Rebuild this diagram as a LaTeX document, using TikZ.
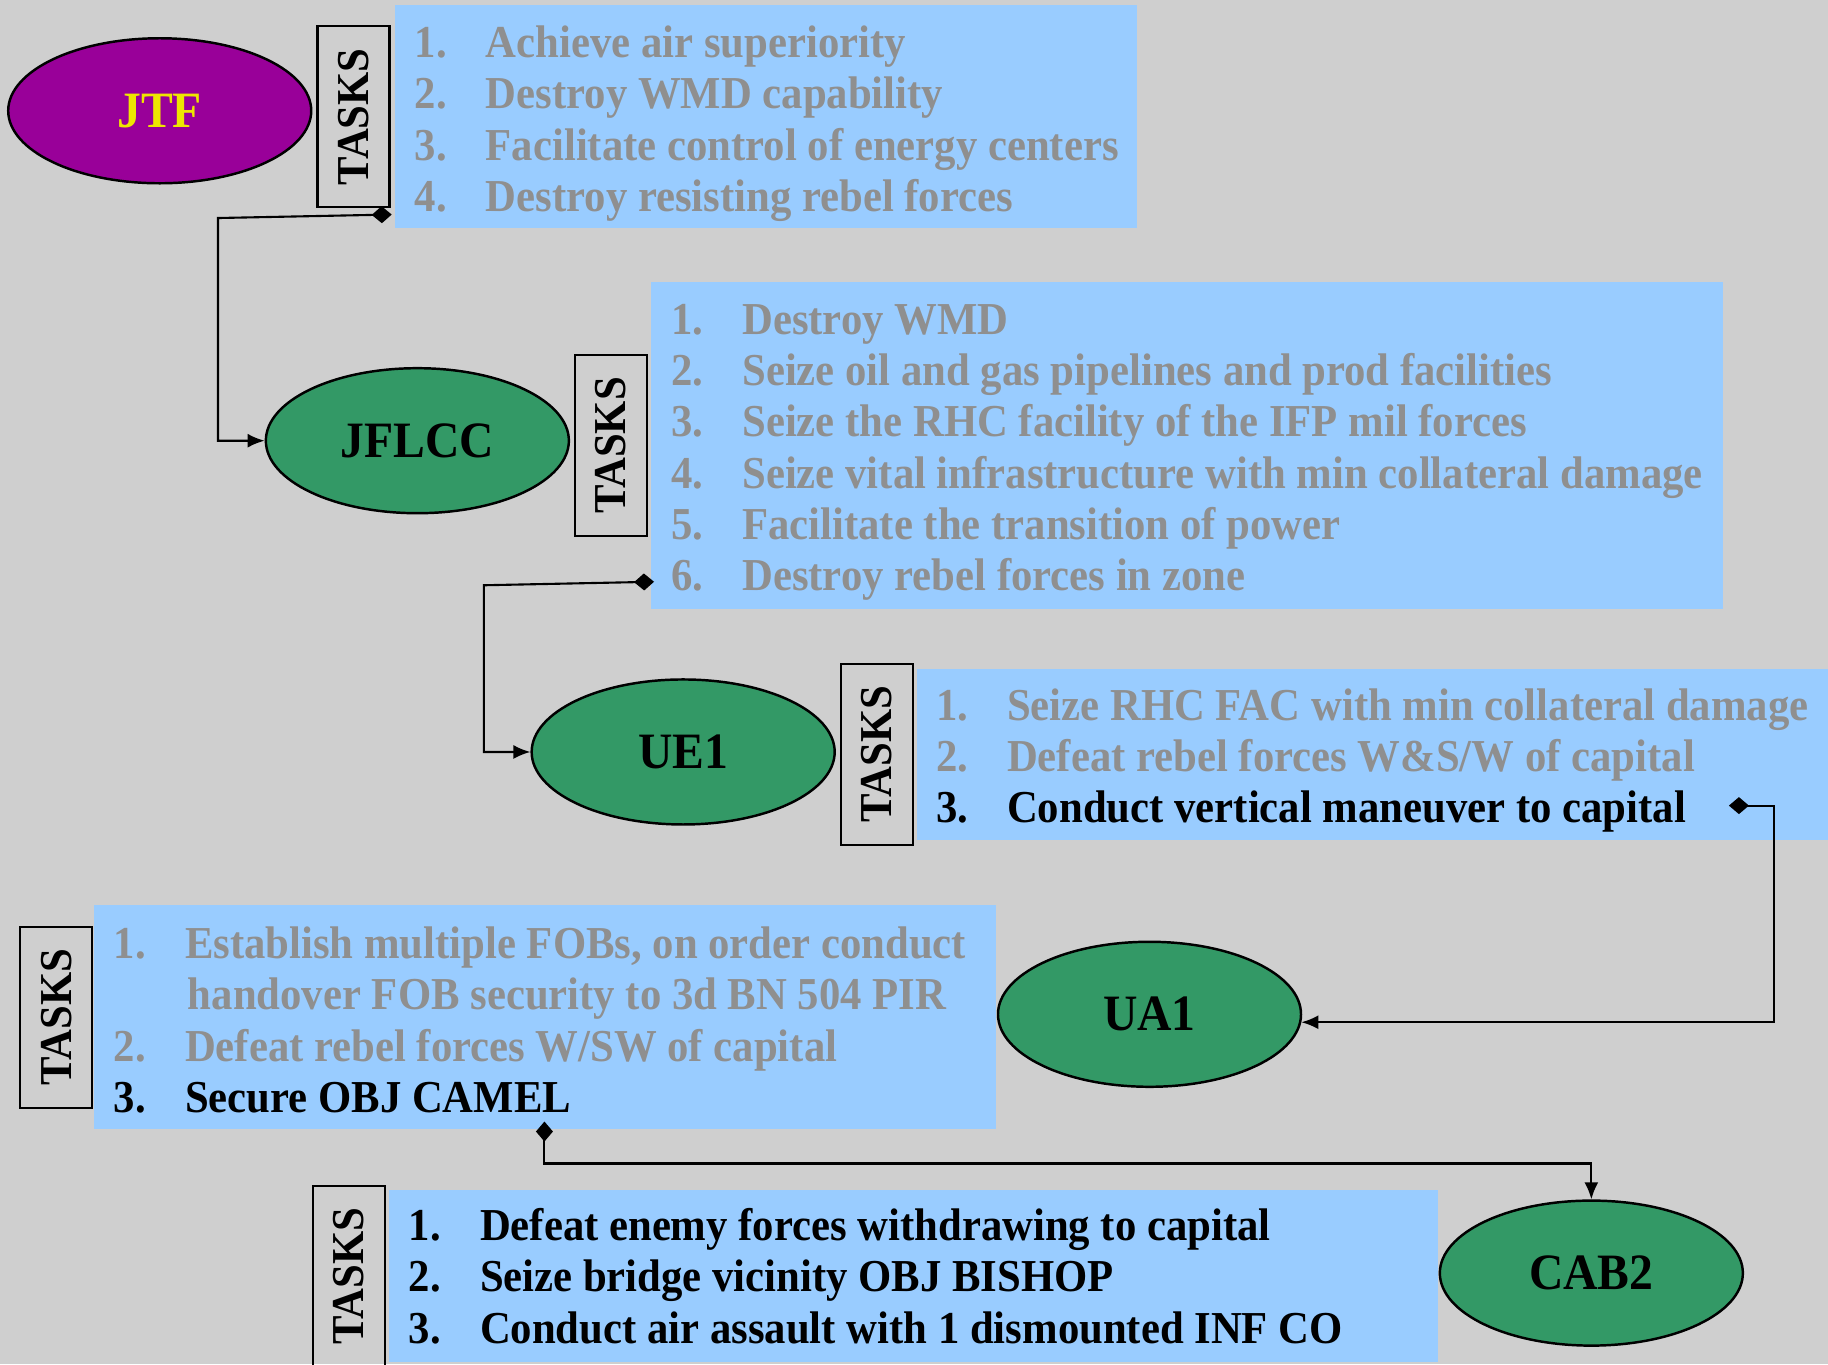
\documentclass[tikz,border=0pt]{standalone}
\usepackage{fontspec}
\setmainfont[FakeStretch=0.935]{Liberation Serif}
\usepackage{graphicx}
\usepackage{tikz}
\usetikzlibrary{positioning, shapes.geometric, arrows.meta}
\definecolor{bggray}{RGB}{207,207,207}
\definecolor{boxblue}{RGB}{153,204,255}
\definecolor{taskgray}{RGB}{143,143,143}
\definecolor{unitgreen}{RGB}{51,153,102}
\definecolor{jtfpurple}{RGB}{153,0,153}
\definecolor{jtfyellow}{RGB}{238,230,0}
\tikzstyle{unit}=[ellipse, draw, line width=0.7pt, fill=unitgreen, minimum width=3.03cm, minimum height=1.45cm, inner sep=0pt, font=\fontsize{14.5}{17}\selectfont\bfseries]
\tikzstyle{taskbox}=[fill=boxblue, anchor=north west, inner sep=0pt]
\tikzstyle{tasklist}=[align=left, inner sep=0pt, text=taskgray, font=\fontsize{13}{14.6}\selectfont\bfseries]
\tikzstyle{tag}=[draw, line width=0.6pt, minimum width=0.72cm, minimum height=1.81cm, inner sep=0pt, font=\fontsize{13}{14.6}\selectfont\bfseries]
\tikzstyle{link}=[{Diamond[length=0.2cm,width=0.17cm]}-{Latex[length=0.17cm,width=0.14cm]}, line width=0.6pt]
\newcommand{\tk}[2]{\makebox[0.711cm][l]{#1.}#2}

\begin{document}
\begin{tikzpicture}[x=0.011658cm, y=-0.011658cm]
    \fill[bggray] (0,0) rectangle (1568,1170);
    \useasboundingbox (0,0) rectangle (1568,1170);

    % units
    \node[unit, fill=jtfpurple, text=jtfyellow] (jtf) at (137,95) {JTF};
    \node[unit] (jflcc) at (358,378) {JFLCC};
    \node[unit] (ue1) at (586,645) {UE1};
    \node[unit] (ua1) at (986,870) {UA1};
    \node[unit] (cab2) at (1365,1092) {CAB2};

    % task lists
    \node[taskbox, minimum width=7.426cm, minimum height=2.227cm] (t1) at (338,4) {};
    \node[tasklist, right=0.2cm of t1.west, yshift=-0.07cm] (l1) {\tk{1}{Achieve air superiority}\\
        \tk{2}{Destroy WMD capability}\\
        \tk{3}{Facilitate control of energy centers}\\
        \tk{4}{Destroy resisting rebel forces}};
    \node[tag, left=0.035cm of t1] (k1) {\rotatebox{90}{TASKS}};

    \node[taskbox, minimum width=10.714cm, minimum height=3.276cm] (t2) at (558,241) {};
    \node[tasklist, right=0.2cm of t2.west, yshift=-0.07cm] (l2) {\tk{1}{Destroy WMD}\\
        \tk{2}{Seize oil and gas pipelines and prod facilities}\\
        \tk{3}{Seize the RHC facility of the IFP mil forces}\\
        \tk{4}{Seize vital infrastructure with min collateral damage}\\
        \tk{5}{Facilitate the transition of power}\\
        \tk{6}{Destroy rebel forces in zone}};
    \node[tag, left=0.025cm of t2] (k2) {\rotatebox{90}{TASKS}};

    \node[taskbox, minimum width=9.3cm, minimum height=1.714cm] (t3) at (786,573) {};
    \node[tasklist, right=0.19cm of t3.west, yshift=-0.06cm] (l3) {\tk{1}{Seize RHC FAC with min collateral damage}\\
        \tk{2}{Defeat rebel forces W\&S/W of capital}\\
        {\color{black}\tk{3}{Conduct vertical maneuver to capital}}};
    \node[tag, left=0.025cm of t3] (k3) {\rotatebox{90}{TASKS}};

    \node[taskbox, minimum width=9.023cm, minimum height=2.238cm] (t4) at (80,776) {};
    \node[tasklist, right=0.2cm of t4.west, yshift=-0.025cm] (l4) {\tk{1}{Establish multiple FOBs, on order conduct}\\
        \makebox[0.74cm]{}handover FOB security to 3d BN 504 PIR\\
        \tk{2}{Defeat rebel forces W/SW of capital}\\
        {\color{black}\tk{3}{Secure OBJ CAMEL}}};
    \node[tag, left=0pt of t4] (k4) {\rotatebox{90}{TASKS}};

    \node[taskbox, minimum width=10.492cm, minimum height=1.725cm] (t5) at (333,1020) {};
    \node[tasklist, text=black, right=0.2cm of t5.west] (l5) {\tk{1}{Defeat enemy forces withdrawing to capital}\\
        \tk{2}{Seize bridge vicinity OBJ BISHOP}\\
        \tk{3}{Conduct air assault with 1 dismounted INF CO}};
    \node[tag, left=0.025cm of t5] (k5) {\rotatebox{90}{TASKS}};

    % hand-offs
    \coordinate (d1) at (336,184);
    \coordinate (d2) at (561,499);
    \coordinate (d3) at (1483,691);
    \coordinate (d4) at (467,962);
    \draw[link] (d1) -- ++(-149,3) |- (jflcc.west);
    \draw[link] (d2) -- ++(-146,3) |- (ue1.west);
    \draw[link] (d3) -- ++(39,0) |- (ua1.-3.5);
    \draw[link] (d4) -- ++(0,36) -| (cab2.north);
\end{tikzpicture}
\end{document}
